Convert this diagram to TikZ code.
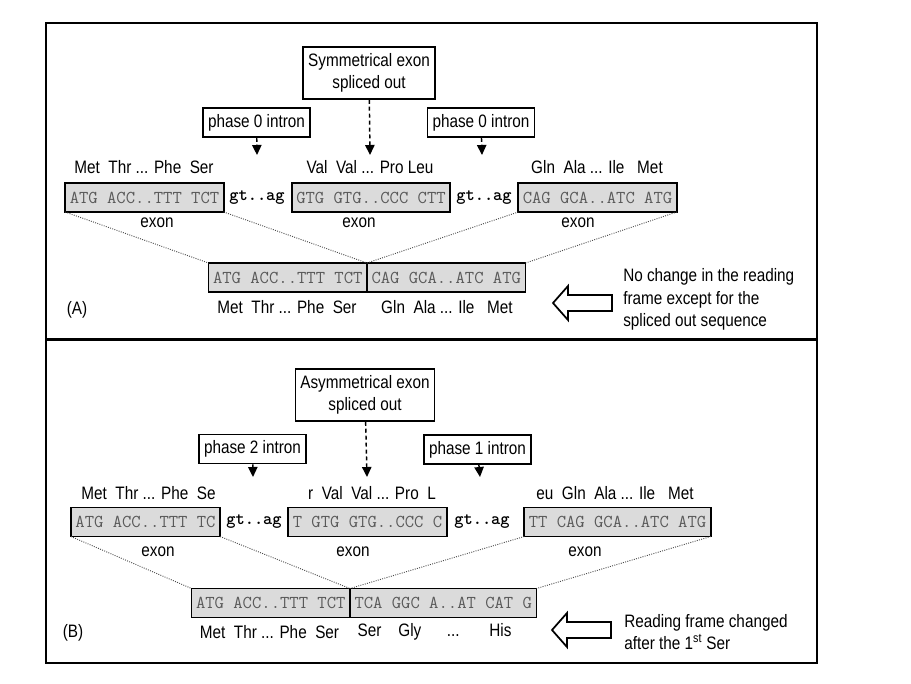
\documentclass[tikz,border=0pt]{standalone}
\usepackage{fontspec}
\setmainfont{Liberation Sans}[FakeStretch=0.85]
\usetikzlibrary{arrows.meta,positioning}

\tikzset{
  exonbox/.style={draw, line width=1.2pt, fill=gray!28, text=black!65,
    font=\ttfamily\fontsize{13.6}{16}\selectfont, minimum height=21.75pt,
    inner xsep=3.4pt, inner ysep=0pt, outer sep=0pt},
  fusebox/.style={exonbox, line width=1pt},
  intr/.style={font=\ttfamily\bfseries\fontsize{13.2}{16}\selectfont, inner sep=0pt},
  tag/.style={draw, line width=1.2pt, fill=white, inner xsep=3.8pt, inner ysep=2pt,
    minimum height=21.75pt, align=center},
  aa/.style={inner sep=0pt},
  cut/.style={line width=1.1pt, dash pattern=on 3pt off 2.2pt,
    -{Triangle[length=7.5pt,width=7pt]}},
  splice/.style={densely dotted, line width=0.7pt, black!70},
  bigarrow/.style={line width=1.3pt, fill=white, line join=miter},
}

\begin{document}
\begin{tikzpicture}[x=0.75pt, y=-0.75pt, font=\fontsize{13.5}{16.9}\selectfont]

\useasboundingbox (0,0) rectangle (911,683);

% frame
\draw[line width=1.6pt] (46,23) rectangle (817,663);
\draw[line width=1.6pt] (46,339.5) -- (817,339.5);

% ---------- (A) symmetrical exon ----------
\node[tag, minimum height=39pt] (symA) at (369,73) {Symmetrical exon\\spliced out};
\node[tag] (phA1) at (256.5,122.5) {phase 0 intron};
\node[tag] (phA2) at (481,122.5) {phase 0 intron};
\coordinate (tipA0) at (370,155);
\coordinate (tipA1) at (257,155);
\coordinate (tipA2) at (482,155);
\draw[cut] (symA) -- (tipA0);
\draw[cut] (phA1) -- (tipA1);
\draw[cut] (phA2) -- (tipA2);

\node[aa] (aaA1) at (144,167) {Met\ \ Thr ... Phe\ \ Ser};
\node[aa] (aaA2) at (370,167) {Val\ \ Val ... Pro\ Leu};
\node[aa] (aaA3) at (597,167) {Gln\ \ Ala ... Ile\ \ \ Met};

\node[exonbox] (exA1) at (144.5,197.5) {ATG ACC..TTT TCT};
\node[intr] (gtA1) at (257,197.5) {gt..ag};
\node[exonbox] (exA2) at (371,197.5) {GTG GTG..CCC CTT};
\node[intr] (gtA2) at (484,197.5) {gt..ag};
\node[exonbox] (exA3) at (597.5,197.5) {CAG GCA..ATC ATG};

\node[aa] (lbA1) at (157,223) {exon};
\node[aa] (lbA2) at (359,223) {exon};
\node[aa] (lbA3) at (578,223) {exon};

\node[fusebox, anchor=east] (fuA1) at (367,277.5) {ATG ACC..TTT TCT};
\node[fusebox, anchor=west] (fuA2) at (367,277.5) {CAG GCA..ATC ATG};
\draw[splice] (exA1.south west) -- (fuA1.north west);
\draw[splice] (exA1.south east) -- (fuA1.north east);
\draw[splice] (exA3.south west) -- (fuA2.north west);
\draw[splice] (exA3.south east) -- (fuA2.north east);

\node[aa] (aaA4) at (287,307) {Met\ \ Thr ... Phe\ \ Ser};
\node[aa] (aaA5) at (447,307) {Gln\ \ Ala ... Ile\ \ \ Met};
\node[aa] (capA) at (77,310) {(A)};

\draw[bigarrow] (553,303) -- (568,286) -- (568,295) -- (612,295) -- (612,311)
  -- (568,311) -- (568,320) -- cycle;
\node[aa, anchor=west, align=left] (noteA) at (623,299.5)
  {No change in the reading\\frame except for the\\spliced out sequence};

% ---------- (B) asymmetrical exon ----------
\node[tag, minimum height=39pt] (symB) at (365,395) {Asymmetrical exon\\spliced out};
\node[tag] (phB1) at (252.5,449) {phase 2 intron};
\node[tag] (phB2) at (477.5,449.5) {phase 1 intron};
\coordinate (tipB0) at (367,477);
\coordinate (tipB1) at (253,477);
\coordinate (tipB2) at (480,477);
\draw[cut] (symB) -- (tipB0);
\draw[cut] (phB1) -- (tipB1);
\draw[cut] (phB2) -- (tipB2);

\node[aa] (aaB1) at (148.5,493) {Met\ \ Thr ... Phe\ \ Se};
\node[aa] (aaB2) at (372,493) {r\ \ Val\ \ Val ... Pro\ \ L};
\node[aa] (aaB3) at (615,493) {eu\ \ Gln\ \ Ala ... Ile\ \ \ Met};

\node[exonbox] (exB1) at (145.5,522) {ATG ACC..TTT TC};
\node[intr] (gtB1) at (254,522) {gt..ag};
\node[exonbox] (exB2) at (367.5,522) {T GTG GTG..CCC C};
\node[intr] (gtB2) at (482,522) {gt..ag};
\node[exonbox] (exB3) at (617.5,522) {TT CAG GCA..ATC ATG};

\node[aa] (lbB1) at (158,552) {exon};
\node[aa] (lbB2) at (353,552) {exon};
\node[aa] (lbB3) at (585,552) {exon};

\node[fusebox, anchor=east] (fuB1) at (350,603) {ATG ACC..TTT TCT};
\node[fusebox, anchor=west] (fuB2) at (350,603) {TCA GGC A..AT CAT G};
\draw[splice] (exB1.south west) -- (fuB1.north west);
\draw[splice] (exB1.south east) -- (fuB1.north east);
\draw[splice] (exB3.south west) -- (fuB2.north west);
\draw[splice] (exB3.south east) -- (fuB2.north east);

\node[aa] (aaB4) at (269.5,632) {Met\ \ Thr ... Phe\ \ Ser};
\node[aa] (aaB5) at (434.5,632) {Ser\ \ \ \ Gly\ \ \ \ \ \ ...\ \ \ \ \ \ \ His};
\node[aa] (capB) at (73,633) {(B)};

\draw[bigarrow] (552,630) -- (567,613) -- (567,622) -- (611,622) -- (611,638)
  -- (567,638) -- (567,647) -- cycle;
\node[aa, anchor=west, align=left] (noteB) at (624,632)
  {Reading frame changed\\after the 1\textsuperscript{st} Ser};

\end{tikzpicture}
\end{document}
